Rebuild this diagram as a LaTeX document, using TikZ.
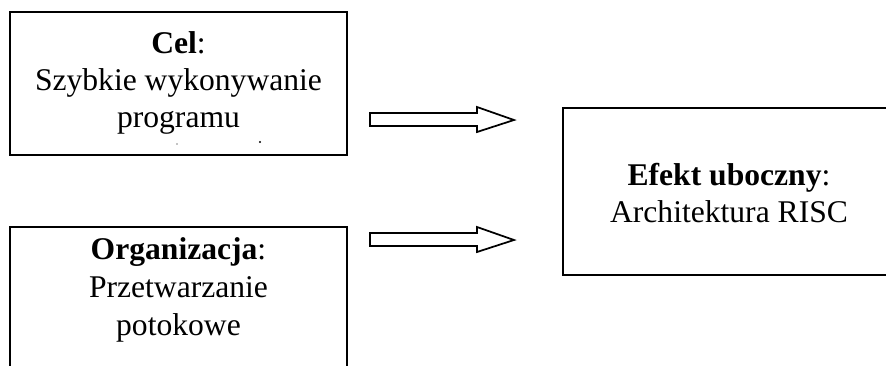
\documentclass[tikz,border=0pt]{standalone}
\usepackage{fontspec}
\setmainfont{Liberation Serif}
\begin{document}
\begin{tikzpicture}[x=0.75pt,y=-0.75pt,
  box/.style={draw=black,line width=1.5pt},
  txt/.style={anchor=base,inner sep=0pt,font=\fontsize{23.7}{27.75}\selectfont},
  blockarrow/.style={draw=black,line width=1.3pt,fill=white,line join=miter}]
\useasboundingbox (0,0) rectangle (886,365);
\clip (0,0) rectangle (886,365);
% boxes
\draw[box] (10,12) rectangle (347,155);
\draw[box] (10,227) rectangle (347,380);
\draw[box] (563,108) rectangle (900,275);
% texts
\node[txt] (celA) at (178.5,53) {\textbf{Cel}:};
\node[txt] (celB) at (178.5,90) {Szybkie wykonywanie};
\node[txt] (celC) at (178.5,127) {programu};
\node[txt] (orgA) at (178.5,259) {\textbf{Organizacja}:};
\node[txt] (orgB) at (178.5,297) {Przetwarzanie};
\node[txt] (orgC) at (178.5,335) {potokowe};
\node[txt] (efA) at (729,185) {\textbf{Efekt uboczny}:};
\node[txt] (efB) at (729,222) {Architektura RISC};
% small marks
\fill (177,144) circle (0.7);
\fill (260,142) circle (1.1);
% block arrows
\draw[blockarrow] (370,113) -- (477,113) -- (477,107) -- (514,120) -- (477,132) -- (477,126) -- (370,126) -- cycle;
\draw[blockarrow] (370,233) -- (477,233) -- (477,227) -- (514,240) -- (477,252) -- (477,246) -- (370,246) -- cycle;
\end{tikzpicture}
\end{document}
